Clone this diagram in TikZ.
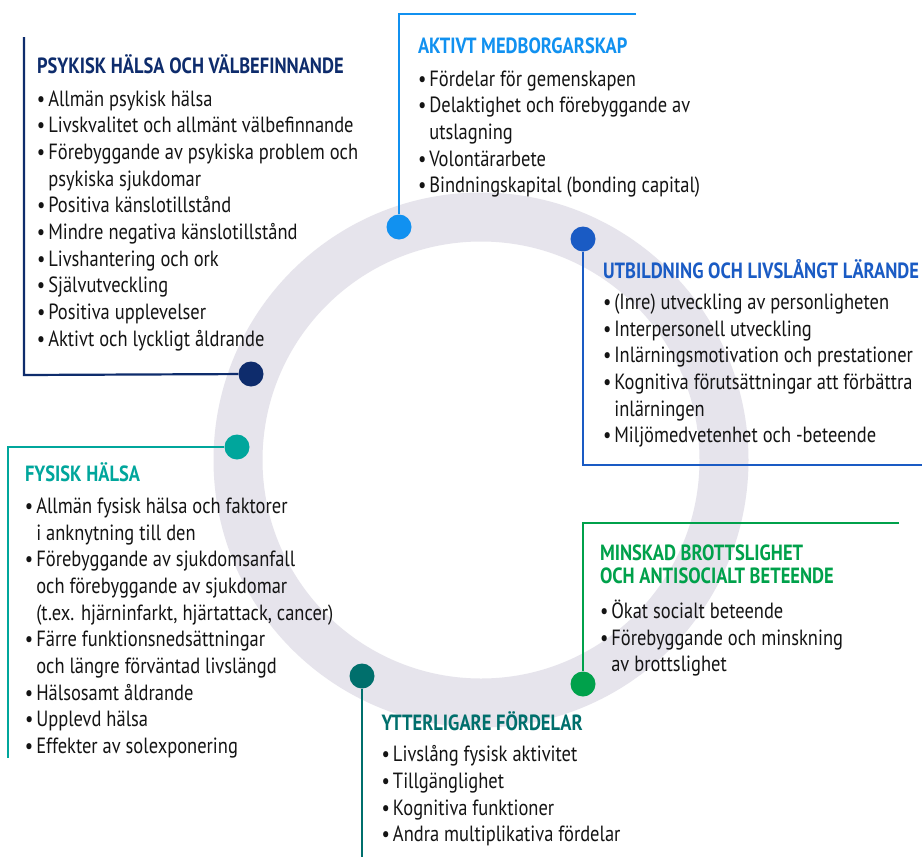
\documentclass[tikz,border=0pt]{standalone}
\usepackage{fontspec}
\setmainfont{PT Sans}[FakeStretch=0.84]
\definecolor{navy}{HTML}{0E2C6C}
\definecolor{lblue}{HTML}{1191F0}
\definecolor{mblue}{HTML}{1A5BC4}
\definecolor{teal}{HTML}{00A69C}
\definecolor{dteal}{HTML}{006F6C}
\definecolor{grn}{HTML}{00A14B}
\definecolor{ringc}{HTML}{E6E4EC}
\definecolor{txt}{HTML}{141414}
\newcommand\bhead[2]{\hbox{\bfseries\color{#1}#2}}
\newcommand\bitem[1]{\hbox{\makebox[11.3pt][l]{•}#1}}
\newcommand\bcont[1]{\hbox{\hspace{11.3pt}#1}}
\newcommand\blkset{\baselineskip=26.7pt\lineskiplimit=-100pt\lineskip=0pt}
\begin{document}
\begin{tikzpicture}[x=1pt,y=-1pt,
  blk/.style={anchor=base west,inner sep=0pt,outer sep=0pt,text=txt,font=\fontsize{22}{26.7}\selectfont},
  dot/.style={circle,fill=#1,minimum size=25pt,inner sep=0pt},
  conn/.style={draw=#1,line width=2.2pt}]
\useasboundingbox (0,0) rectangle (922,857);
\fill[white] (0,0) rectangle (922,857);
% ring
\draw[ringc,line width=49pt] (481,460) circle[radius=243pt];
% dots
\node[dot=navy]  (d1) at (251,374) {};
\node[dot=lblue] (d2) at (399,227) {};
\node[dot=mblue] (d3) at (583,239) {};
\node[dot=teal]  (d4) at (237,447) {};
\node[dot=grn]   (d5) at (583,684) {};
\node[dot=dteal] (d6) at (362,676) {};
% corners
\coordinate (a1) at (24,37);   \coordinate (a2) at (24,375);
\coordinate (b1) at (636,14);  \coordinate (b2) at (399,14);
\coordinate (c1) at (583,465); \coordinate (c2) at (922,465);
\coordinate (e1) at (8,447);   \coordinate (e2) at (8,758);
\coordinate (f1) at (899,523); \coordinate (f2) at (583,523);
\coordinate (g1) at (362,857);
\draw[conn=navy]  (a1) -- (a2) -- (d1);
\draw[conn=lblue] (b1) -- (b2) -- (d2);
\draw[conn=mblue] (d3) -- (c1) -- (c2);
\draw[conn=teal]  (d4) -- (e1) -- (e2);
\draw[conn=grn]   (f1) -- (f2) -- (d5);
\draw[conn=dteal] (d6) -- (g1);
% text blocks
\node[blk] (t1) at (37,73) {\vtop{\blkset
  \bhead{navy}{PSYKISK HÄLSA OCH VÄLBEFINNANDE}\vskip6.3pt
  \bitem{Allmän psykisk hälsa}
  \bitem{Livskvalitet och allmänt välbefinnande}
  \bitem{Förebyggande av psykiska problem och}
  \bcont{psykiska sjukdomar}
  \bitem{Positiva känslotillstånd}
  \bitem{Mindre negativa känslotillstånd}
  \bitem{Livshantering och ork}
  \bitem{Självutveckling}
  \bitem{Positiva upplevelser}
  \bitem{Aktivt och lyckligt åldrande}}};
\node[blk] (t2) at (418,53.3) {\vtop{\blkset
  \bhead{lblue}{AKTIVT MEDBORGARSKAP}\vskip6pt
  \bitem{Fördelar för gemenskapen}
  \bitem{Delaktighet och förebyggande av}
  \bcont{utslagning}
  \bitem{Volontärarbete}
  \bitem{Bindningskapital (bonding capital)}}};
\node[blk] (t3) at (603,278.3) {\vtop{\blkset
  \bhead{mblue}{UTBILDNING OCH LIVSLÅNGT LÄRANDE}\vskip4.3pt
  \bitem{(Inre) utveckling av personligheten}
  \bitem{Interpersonell utveckling}
  \bitem{Inlärningsmotivation och prestationer}
  \bitem{Kognitiva förutsättningar att förbättra}
  \bcont{inlärningen}
  \bitem{Miljömedvetenhet och -beteende}}};
\node[blk] (t4) at (25,481.7) {\vtop{\blkset
  \bhead{teal}{FYSISK HÄLSA}\vskip4.9pt
  \bitem{Allmän fysisk hälsa och faktorer}
  \bcont{i anknytning till den}
  \bitem{Förebyggande av sjukdomsanfall}
  \bcont{och förebyggande av sjukdomar}
  \bcont{(t.ex. hjärninfarkt, hjärtattack, cancer)}
  \bitem{Färre funktionsnedsättningar}
  \bcont{och längre förväntad livslängd}
  \bitem{Hälsosamt åldrande}
  \bitem{Upplevd hälsa}
  \bitem{Effekter av solexponering}}};
\node[blk] (t5) at (600,560) {\vtop{\blkset
  \bhead{grn}{MINSKAD BROTTSLIGHET}\vskip-3.4pt
  \bhead{grn}{OCH ANTISOCIALT BETEENDE}\vskip8.3pt
  \bitem{Ökat socialt beteende}
  \bitem{Förebyggande och minskning}
  \bcont{av brottslighet}}};
\node[blk] (t6) at (381.7,730) {\vtop{\blkset
  \bhead{dteal}{YTTERLIGARE FÖRDELAR}\vskip5pt
  \bitem{Livslång fysisk aktivitet}
  \bitem{Tillgänglighet}
  \bitem{Kognitiva funktioner}
  \bitem{Andra multiplikativa fördelar}}};
\end{tikzpicture}
\end{document}
